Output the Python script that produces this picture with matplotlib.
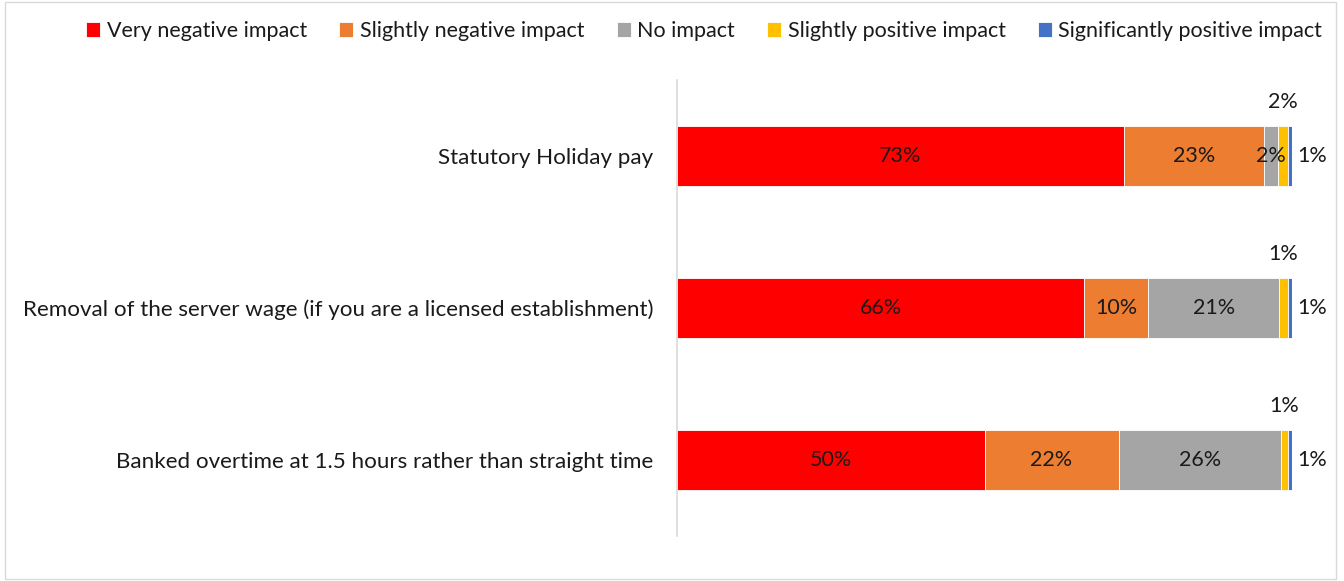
import matplotlib.pyplot as plt
from matplotlib.patches import Rectangle

plt.rcParams['font.family'] = ['Lato', 'DejaVu Sans']

categories = ['Statutory Holiday pay',
              'Removal of the server wage (if you are a licensed establishment)',
              'Banked overtime at 1.5 hours rather than straight time']
series_names = ['Very negative impact', 'Slightly negative impact', 'No impact',
                'Slightly positive impact', 'Significantly positive impact']
very_negative = [72.7, 66.2, 50.0]
slightly_negative = [22.7, 10.4, 21.8]
no_impact = [2.4, 21.3, 26.4]
slightly_positive = [1.5, 1.4, 1.1]
significantly_positive = [0.7, 0.7, 0.7]

colors = ['#FF0000', '#ED7D31', '#A5A5A5', '#FFC000', '#4472C4']
series = [very_negative, slightly_negative, no_impact, slightly_positive, significantly_positive]

fig = plt.figure(figsize=(13.44, 5.81), dpi=100)
ax = fig.add_axes([677 / 1344, 1 - 536 / 581, (1292 - 677) / 1344, (536 - 80) / 581])

fs = 15.5
ypos = list(range(len(categories)))
left = [0.0] * len(categories)
for i, (name, vals) in enumerate(zip(series_names, series)):
    ax.barh(ypos, vals, left=left, height=0.395, color=colors[i], label=name,
            edgecolor='white', linewidth=0.6)
    for j, v in enumerate(vals):
        lab = '%d%%' % round(v)
        cx = left[j] + v / 2
        if i <= 2:
            ax.text(cx, j, lab, ha='center', va='center', fontsize=fs, color='#1a1a1a')
        elif i == 3:
            ax.annotate(lab, (cx, j - 0.2), xytext=(0, 10), textcoords='offset points',
                        ha='center', va='bottom', fontsize=fs, color='#1a1a1a',
                        annotation_clip=False)
        else:
            ax.annotate(lab, (left[j] + v, j), xytext=(4, 0), textcoords='offset points',
                        ha='left', va='center', fontsize=fs, color='#1a1a1a',
                        annotation_clip=False)
    left = [a + b for a, b in zip(left, vals)]

ax.set_xlim(0, 100)
ax.set_ylim(2.5, -0.5)
ax.set_yticks(ypos)
ax.set_yticklabels(categories, fontsize=16.1, color='#1a1a1a')
ax.tick_params(axis='y', length=0, pad=17)
ax.set_xticks([])
for s in ['top', 'right', 'bottom']:
    ax.spines[s].set_visible(False)
ax.spines['left'].set_color('#D9D9D9')
ax.spines['left'].set_linewidth(1.2)

handles, labels = ax.get_legend_handles_labels()
fig.legend(handles, labels, loc='center', bbox_to_anchor=(0.524, 1 - 31 / 581), ncol=5,
           frameon=False, fontsize=fs, handlelength=0.65, handleheight=0.65,
           handletextpad=0.3, columnspacing=1.5, labelcolor='#1a1a1a')

fig.patches.append(Rectangle((0.004, 0.004), 0.99, 0.992, transform=fig.transFigure,
                             fill=False, edgecolor='#D9D9D9', linewidth=1))

fig.savefig('out.png', dpi=100)
